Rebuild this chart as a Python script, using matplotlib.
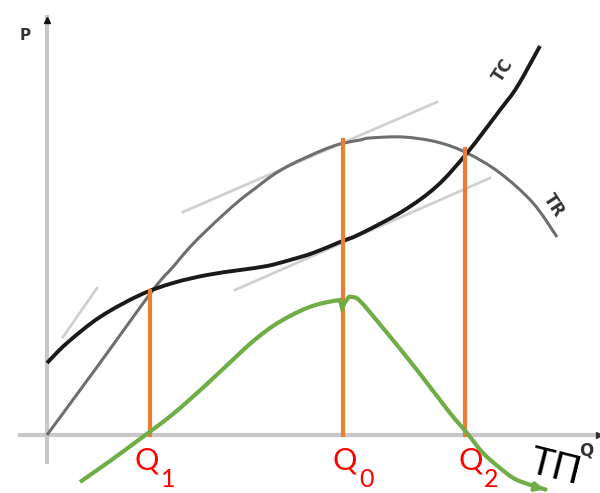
import matplotlib
matplotlib.use("Agg")
from matplotlib import pyplot as plt
from matplotlib.path import Path
from matplotlib.patches import PathPatch
import numpy as np

# values; q = quantity, one unit = one pixel, origin at the axes corner
tr_q = [0, 50, 106, 126, 143, 160, 176, 193, 210, 226, 243, 260, 276, 293, 313, 323, 356, 390, 420, 453, 486, 510]
tr_v = [0, 68, 145, 168, 188, 205, 220, 235, 248, 260, 270, 278, 285, 291, 295, 297, 298, 293, 282, 262, 232, 198]

tc_q = [0, 20, 53, 93, 126, 160, 193, 220, 243, 266, 293, 313, 356, 390, 420, 453, 470, 493]
tc_v = [72, 92, 118, 140, 152, 160, 165, 169, 175, 182, 193, 201, 224, 249, 282, 325, 348, 389]

# profit curve (TP), with the small hook at Q0
tp_q = [33, 63, 93, 126, 160, 193, 210, 226, 243, 260, 276, 293, 295, 301, 305, 313,
        336, 370, 403, 420, 436, 453, 470, 500]
tp_v = [-47, -26, -4, 21, 51, 82, 97, 109, 119, 127, 132, 135, 127, 137, 138, 134,
        107, 65, 22, 2, -18, -33, -45, -55]

# tangent lines (start, end)
tangents = [((16, 98), (50, 147)),
            ((136, 223), (390, 333)),
            ((188, 145), (443, 257))]

q_marks = [103, 296, 418]
q_names = ["1", "0", "2"]
q_label_x = [88, 286, 411]


def smooth_path(xs, ys, breaks=()):
    # curve through the points with bezier segments (catmull-rom handles)
    pts = np.column_stack([xs, ys]).astype(float)
    verts = [pts[0]]
    codes = [Path.MOVETO]
    for i in range(len(pts) - 1):
        p0 = pts[i - 1] if i > 0 and i not in breaks else pts[i]
        p1 = pts[i]
        p2 = pts[i + 1]
        p3 = pts[i + 2] if i + 2 < len(pts) and (i + 1) not in breaks else pts[i + 1]
        c1 = p1 + (p2 - p0) / 6.0
        c2 = p2 - (p3 - p1) / 6.0
        verts += [c1, c2, p2]
        codes += [Path.CURVE4] * 3
    return Path(verts, codes)


fig = plt.figure(figsize=(6, 4.93), dpi=100)
ax = fig.add_axes([0, 0, 1, 1])
ax.set_xlim(-47, 553)
ax.set_ylim(-58, 435)
ax.axis("off")

# axes of the diagram
ax.plot([0, 0], [-27, 418], color="#c8c8c8", lw=3, zorder=1)
ax.plot([-27, 550], [0, 0], color="#c8c8c8", lw=3, zorder=1)
ax.plot([0], [415], marker="^", color="#111111", ms=5, zorder=2)
ax.plot([552], [0], marker=">", color="#333333", ms=5, zorder=2)
ax.text(-22, 400, "P", fontsize=11, fontweight="bold", color="#333333", ha="center", va="center")
ax.text(539, -16, "Q", fontsize=12, fontweight="bold", color="#333333", ha="center", va="center")

for (a, b) in tangents:
    ax.plot([a[0], b[0]], [a[1], b[1]], color="#d0d0d0", lw=2, zorder=2)

ax.add_patch(PathPatch(smooth_path(tr_q, tr_v), fill=False, edgecolor="#6e6e6e", lw=2.2, zorder=3))
ax.add_patch(PathPatch(smooth_path(tc_q, tc_v), fill=False, edgecolor="#1a1a1a", lw=2.8, zorder=4))

ax.text(456, 365, "TC", fontsize=12, fontweight="bold", color="#333333",
        rotation=57, ha="center", va="center")
ax.text(507, 230, "TR", fontsize=12, fontweight="bold", color="#333333",
        rotation=-57, ha="center", va="center")

# orange verticals up to TR
for q in q_marks:
    top = np.interp(q, tr_q, tr_v)
    ax.plot([q, q], [0, top + 3], color="#ED7D31", lw=3, zorder=5)

ax.add_patch(PathPatch(smooth_path(tp_q, tp_v, breaks=(11, 12)), fill=False,
                       edgecolor="#70AD47", lw=3, zorder=6))
ax.annotate("", xy=(tp_q[-1], tp_v[-1]), xytext=(tp_q[-1] - 12, tp_v[-1] + 3),
            arrowprops=dict(arrowstyle="-|>", color="#70AD47", lw=3, mutation_scale=12),
            zorder=6)

fam = ["Lato", "DejaVu Sans"]
for x, n in zip(q_label_x, q_names):
    ax.text(x, -35, "Q", fontsize=22, color="#FF0000", family=fam, ha="left", va="baseline")
    ax.text(x + 26, -52, n, fontsize=18, color="#FF0000", family=fam, ha="left", va="baseline")

ax.text(508, -33, "ТП", fontsize=28, color="black", family=fam, rotation=-14,
        ha="center", va="center")

plt.savefig("out.png", dpi=100)
